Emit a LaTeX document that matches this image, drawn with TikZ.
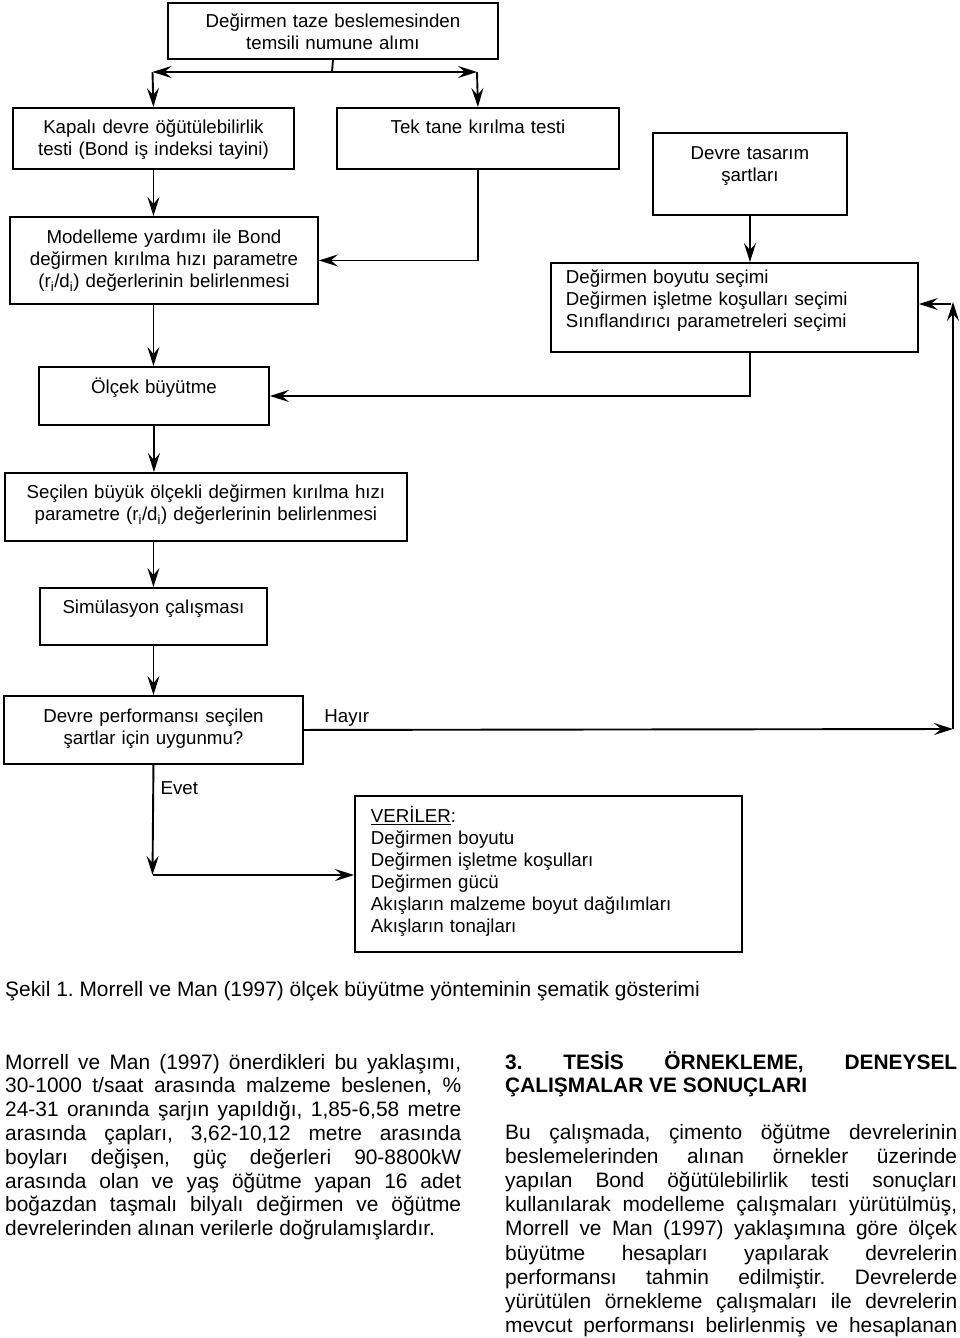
\documentclass[tikz,border=0pt]{standalone}
\usepackage{fontspec}
\setmainfont{Liberation Sans}
\usepackage{tikz}
\usetikzlibrary{shapes,arrows.meta}
\newcommand{\boxfont}{\fontsize{18.7}{22}\selectfont}
\newcommand{\bodyfont}{\fontsize{20.9}{23.8}\selectfont\frenchspacing\tolerance=10000\hyphenpenalty=10000}
\tikzstyle{block} = [rectangle, draw, line width=1.9pt, inner sep=0pt,
anchor=north west, align=center, font=\boxfont]
\tikzstyle{blockl} = [block, align=left, inner xsep=15pt]
\tikzstyle{line} = [draw, line width=1.9pt, -{Stealth[length=19pt,width=12pt,inset=7pt]}]
\tikzstyle{plain} = [draw, line width=1.9pt]
\tikzstyle{lbl} = [font=\boxfont, inner sep=0pt]
\tikzstyle{para} = [anchor=base west, inner sep=0pt, align=justify, font=\bodyfont]

\begin{document}
\begin{tikzpicture}[x=1pt, y=-1pt]
    \useasboundingbox (0,0) rectangle (960,1338);
    % Place nodes
    \node [block, text width=330pt, text height=25pt, text depth=31pt] (init) at (167,2)
    {Değirmen taze beslemesinden\\temsili numune alımı};
    \node [block, text width=281pt, text height=26pt, text depth=35pt] (bond) at (12,107)
    {Kapalı devre öğütülebilirlik\\testi (Bond iş indeksi tayini)};
    \node [block, text width=282pt, text height=26pt, text depth=35pt] (single) at (336,107)
    {Tek tane kırılma testi};
    \node [block, text width=194pt, text height=27pt, text depth=55pt] (design) at (652,132)
    {Devre tasarım\\şartları};
    \node [block, text width=308pt, text height=27pt, text depth=60pt] (model) at (9,216)
    {Modelleme yardımı ile Bond\\değirmen kırılma hızı parametre\\(r\textsubscript{i}/d\textsubscript{i}) değerlerinin belirlenmesi};
    \node [blockl, text width=337pt, text height=21pt, text depth=68pt] (select) at (550,262)
    {Değirmen boyutu seçimi\\Değirmen işletme koşulları seçimi\\Sınıflandırıcı parametreleri seçimi};
    \node [block, text width=230pt, text height=27pt, text depth=31pt] (scale) at (38,366)
    {Ölçek büyütme};
    \node [block, text width=402pt, text height=26pt, text depth=42pt] (bigmill) at (4,472)
    {Seçilen büyük ölçekli değirmen kırılma hızı\\parametre (r\textsubscript{i}/d\textsubscript{i}) değerlerinin belirlenmesi};
    \node [block, text width=227pt, text height=26pt, text depth=31pt] (sim) at (39,587)
    {Simülasyon çalışması};
    \node [block, text width=299pt, text height=27pt, text depth=41pt] (check) at (3,695)
    {Devre performansı seçilen\\şartlar için uygunmu?};
    \node [blockl, inner xsep=16pt, text width=355pt, text height=27pt, text depth=129pt] (data) at (354,795)
    {\underline{VERİLER}:\\Değirmen boyutu\\Değirmen işletme koşulları\\Değirmen gücü\\Akışların malzeme boyut dağılımları\\Akışların tonajları};

    % Text below the chart
    \node [para, align=left] (caption) at (5,996)
    {Şekil 1. Morrell ve Man (1997) ölçek büyütme yönteminin şematik gösterimi};
    \node [para, text width=456pt] (leftcol) at (5,1069)
    {Morrell ve Man (1997) önerdikleri bu yaklaşımı,\linebreak
    30-1000 t/saat arasında malzeme beslenen, \%\linebreak
    24-31 oranında şarjın yapıldığı, 1,85-6,58 metre\linebreak
    arasında çapları, 3,62-10,12 metre arasında\linebreak
    boyları değişen, güç değerleri 90-8800kW\linebreak
    arasında olan ve yaş öğütme yapan 16 adet\linebreak
    boğazdan taşmalı bilyalı değirmen ve öğütme\linebreak
    devrelerinden alınan verilerle doğrulamışlardır.};
    \node [para, text width=452pt, font=\bodyfont\bfseries] (heading) at (505,1069)
    {3. TESİS ÖRNEKLEME, DENEYSEL\linebreak
    ÇALIŞMALAR VE SONUÇLARI};
    \node [para, text width=452pt, font=\bodyfont\fontsize{20.9}{24.2}\selectfont] (rightcol) at (505,1139)
    {Bu çalışmada, çimento öğütme devrelerinin\linebreak
    beslemelerinden alınan örnekler üzerinde\linebreak
    yapılan Bond öğütülebilirlik testi sonuçları\linebreak
    kullanılarak modelleme çalışmaları yürütülmüş,\linebreak
    Morrell ve Man (1997) yaklaşımına göre ölçek\linebreak
    büyütme hesapları yapılarak devrelerin\linebreak
    performansı tahmin edilmiştir. Devrelerde\linebreak
    yürütülen örnekleme çalışmaları ile devrelerin\linebreak
    mevcut performansı belirlenmiş ve hesaplanan\parfillskip=0pt\par};

    % Draw edges
    \coordinate (split) at (332,72);
    \coordinate (lsplit) at (152.5,72);
    \coordinate (rsplit) at (477,72);
    \path [plain] (init.south) -- (split);
    \path [line] (split) -- (lsplit);
    \path [line] (split) -- (rsplit);
    \path [line] (lsplit) -- (bond.north);
    \path [line] (rsplit) -- (single.north);
    \path [line] (bond.south) -- (bond.south |- model.north);
    \path [line] (single.south) |- (model.east);
    \path [line] (design.south) -- (design.south |- select.north);
    \path [line] (design.south |- select.south) |- (scale.east);
    \path [line] (bond.south |- model.south) -- (bond.south |- scale.north);
    \path [line] (scale.south) -- (scale.south |- bigmill.north);
    \path [line] (sim.north |- bigmill.south) -- (sim.north);
    \path [line] (sim.south) -- (check.north);
    \coordinate (noend) at (953,729);
    \coordinate (notop) at (953,302);
    \coordinate (noin) at (951,304);
    \path [line] (check.east) -- node [lbl, pos=0.066, anchor=base, yshift=7pt] (nolbl) {Hayır} (noend);
    \path [line] (noend) -- (notop);
    \path [line] (noin) -- (noin -| select.east);
    \coordinate (yesend) at (152.5,875);
    \path [line] (check.south) -- node [lbl, pos=0.268, anchor=base west, xshift=6.5pt] (yeslbl) {Evet} (yesend);
    \path [line] (yesend) -- (yesend -| data.west);
\end{tikzpicture}
\end{document}
